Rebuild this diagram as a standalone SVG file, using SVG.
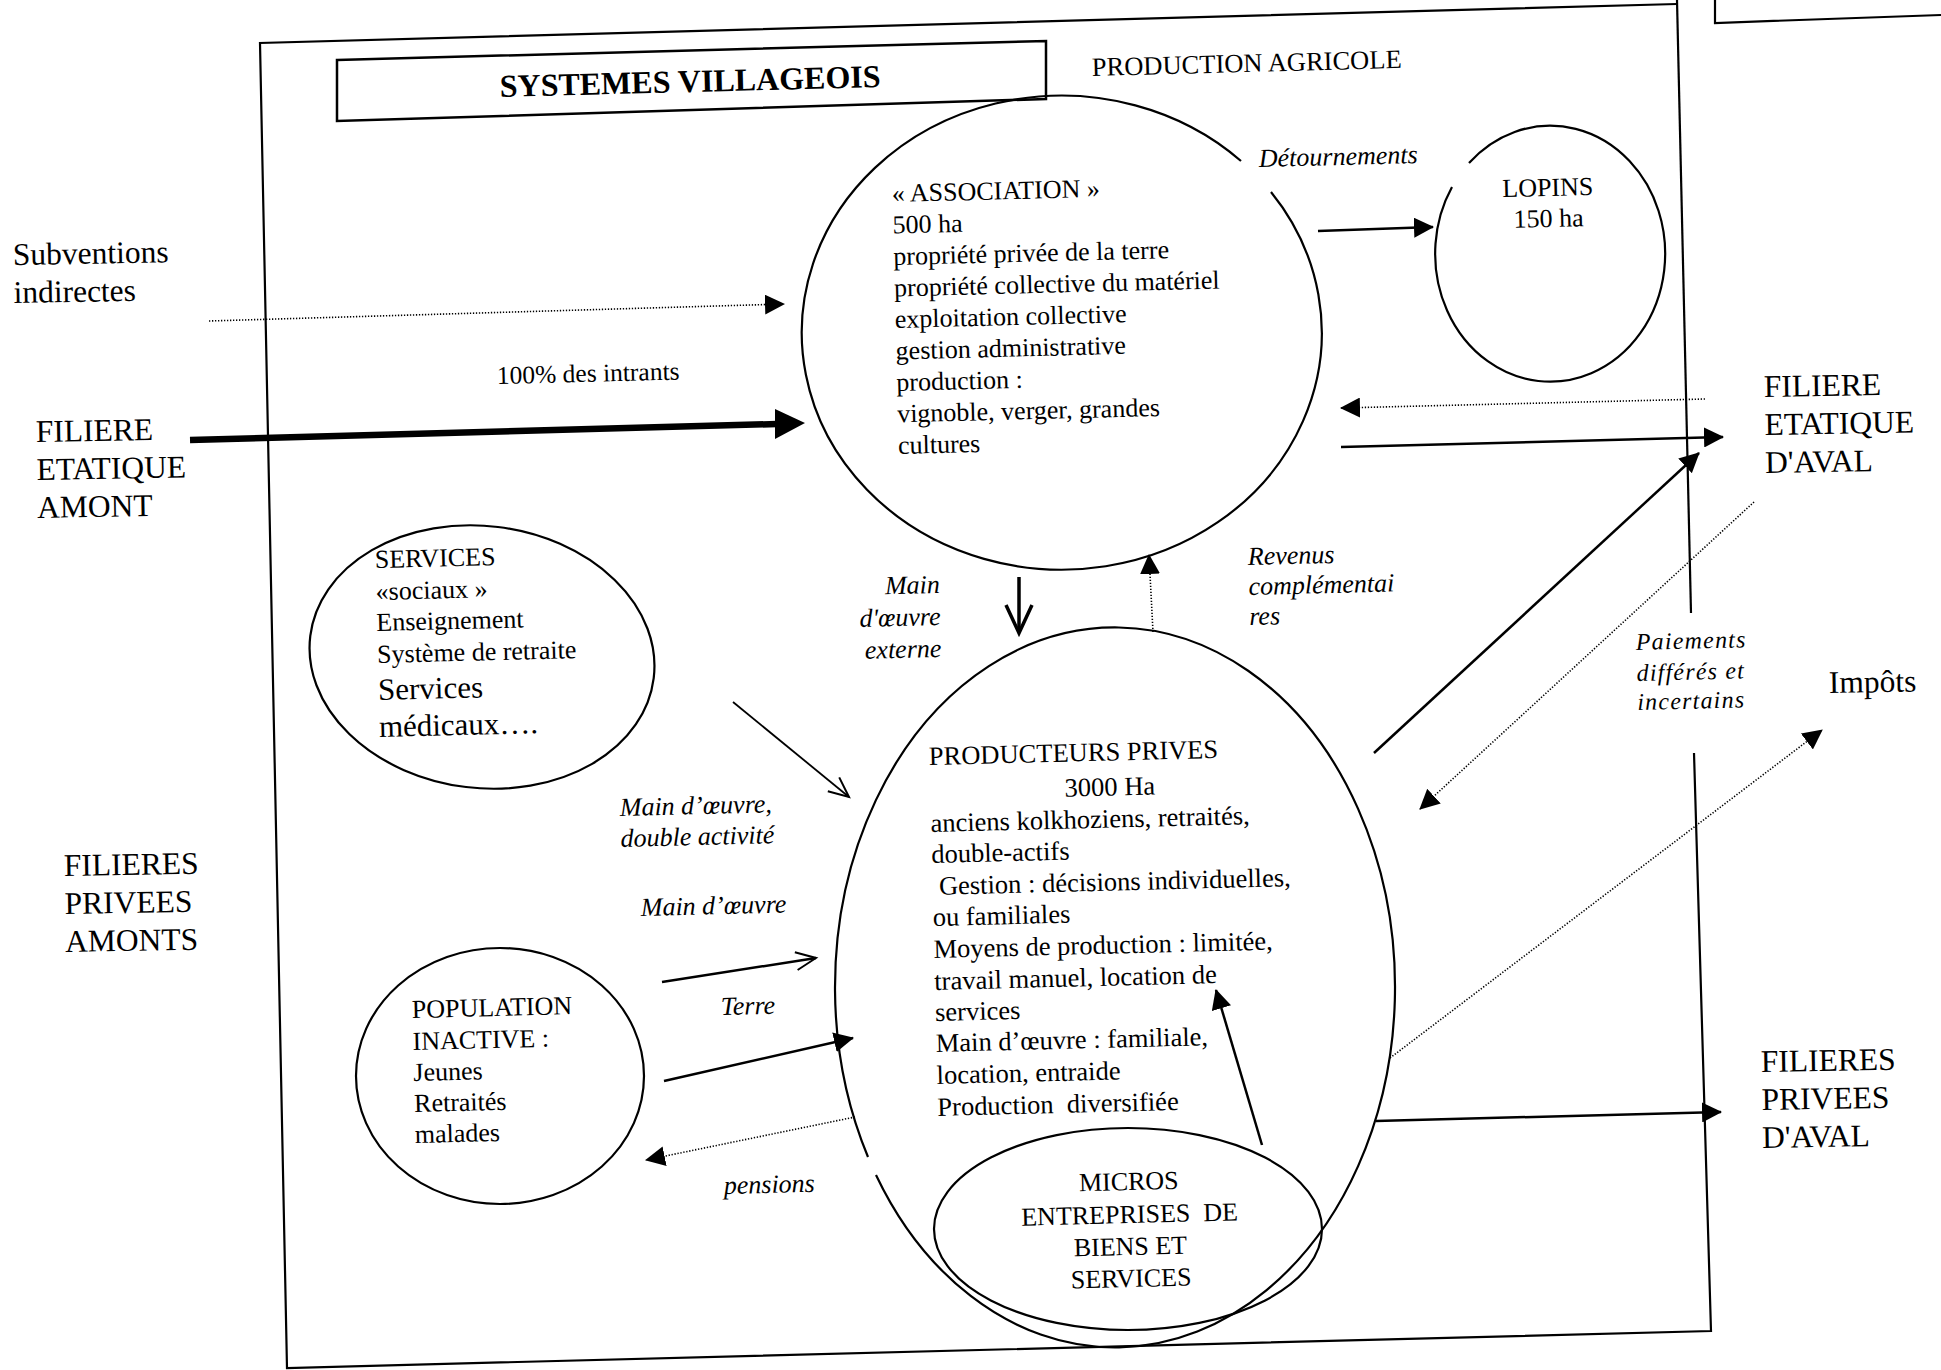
<svg xmlns="http://www.w3.org/2000/svg" width="1941" height="1370" viewBox="0 0 1941 1370">
<defs>
<style>
text{font-family:"Liberation Serif","Times New Roman",serif;fill:#000}
.t{font-size:26px}
.t2{font-size:26.5px}
.big{font-size:31.5px}
.it{font-size:26px;font-style:italic}
.its{font-size:24px;font-style:italic;letter-spacing:1.2px}
.ttl{font-size:32px;font-weight:bold}
.shape{fill:none;stroke:#000;stroke-width:2.2}
.frame{fill:none;stroke:#000;stroke-width:2.2}
.ar{fill:none;stroke:#000;stroke-width:2.5}
.dot{fill:none;stroke:#000;stroke-width:1.6;stroke-dasharray:1.3 1.7}
</style>
<marker id="tri" viewBox="0 0 20 20" refX="19" refY="10" markerWidth="20" markerHeight="20" markerUnits="userSpaceOnUse" orient="auto"><path d="M0,0 L20,10 L0,20 z" fill="#000"/></marker>
<marker id="vee" viewBox="0 0 24 24" refX="22" refY="12" markerWidth="24" markerHeight="24" markerUnits="userSpaceOnUse" orient="auto" overflow="visible"><path d="M2,3 L22,12 L2,21" fill="none" stroke="#000" stroke-width="2"/></marker>
<marker id="veeB" viewBox="0 0 32 32" refX="30" refY="16" markerWidth="32" markerHeight="32" markerUnits="userSpaceOnUse" orient="auto" overflow="visible"><path d="M2,3 L30,16 L2,29" fill="none" stroke="#000" stroke-width="3.5"/></marker>
</defs>
<rect x="0" y="0" width="1941" height="1370" fill="#fff"/>

<g id="frame">
<path class="frame" d="M1677,0 L1691,613"/>
<path class="frame" d="M1677,4 L260,43 L287,1368 L1711,1331 L1694,753"/>
<path class="frame" d="M1715,0 L1715,23 L1941,15"/>
</g>

<g id="title-box">
<path d="M337,60 L1046,41 L1046,99 L337,121 Z" fill="none" stroke="#000" stroke-width="2.5"/>
<text class="ttl" x="500" y="97" transform="rotate(-1.5 500 97)">SYSTEMES VILLAGEOIS</text>
</g>

<g id="production-agricole">
<text class="t2" x="1092" y="76" transform="rotate(-1.5 1092 76)">PRODUCTION AGRICOLE</text>
</g>

<g id="association">
<path class="shape" d="M1271,192 A260,237 0 1 1 1241,161"/>
<text class="t" transform="rotate(-1.4 892 202)"><tspan x="892" y="202">« ASSOCIATION »</tspan><tspan x="892" y="233.5">500 ha</tspan><tspan x="892" y="265">propriété privée de la terre</tspan><tspan x="892" y="296.5">propriété collective du matériel</tspan><tspan x="892" y="328">exploitation collective</tspan><tspan x="892" y="359.5">gestion administrative</tspan><tspan x="892" y="391">production :</tspan><tspan x="892" y="422.5">vignoble, verger, grandes</tspan><tspan x="892" y="454">cultures</tspan></text>
</g>

<g id="lopins">
<path class="shape" d="M1469,163 A115,128 0 1 1 1452,187"/>
<text class="t" text-anchor="middle" transform="rotate(-1.4 1548 196)"><tspan x="1548" y="196">LOPINS</tspan><tspan x="1548" y="227">150 ha</tspan></text>
</g>

<g id="services">
<ellipse class="shape" cx="482" cy="657" rx="173" ry="131" transform="rotate(7 482 657)"/>
<text class="t" transform="rotate(-1.4 375 568)"><tspan x="375" y="568">SERVICES</tspan><tspan x="375" y="600">«sociaux »</tspan><tspan x="375" y="631">Enseignement</tspan><tspan x="375" y="663">Système de retraite</tspan><tspan x="375" y="700" style="font-size:31px">Services</tspan><tspan x="375" y="737" style="font-size:31px">médicaux….</tspan></text>
</g>

<g id="producteurs">
<path class="shape" d="M868,1157 A280,360 0 1 1 876,1175"/>
<text class="t2" transform="rotate(-1.4 929 765)"><tspan x="929" y="765">PRODUCTEURS PRIVES</tspan><tspan x="1064" y="800">3000 Ha</tspan><tspan x="929" y="832">anciens kolkhoziens, retraités,</tspan><tspan x="929" y="863">double-actifs</tspan><tspan x="936" y="895">Gestion : décisions individuelles,</tspan><tspan x="929" y="926">ou familiales</tspan><tspan x="929" y="958">Moyens de production : limitée,</tspan><tspan x="929" y="990">travail manuel, location de</tspan><tspan x="929" y="1021">services</tspan><tspan x="929" y="1052">Main d’œuvre : familiale,</tspan><tspan x="929" y="1084">location, entraide</tspan><tspan x="929" y="1116">Production&#160; diversifiée</tspan></text>
</g>

<g id="micros">
<ellipse class="shape" cx="1128" cy="1229" rx="194" ry="101"/>
<text class="t" text-anchor="middle" transform="rotate(-1.4 1129 1190)"><tspan x="1129" y="1190">MICROS</tspan><tspan x="1129" y="1223">ENTREPRISES&#160; DE</tspan><tspan x="1129" y="1255">BIENS ET</tspan><tspan x="1129" y="1287">SERVICES</tspan></text>
</g>

<g id="population">
<ellipse class="shape" cx="500" cy="1076" rx="144" ry="128"/>
<text class="t" transform="rotate(-1.4 412 1018)"><tspan x="412" y="1018">POPULATION</tspan><tspan x="412" y="1050">INACTIVE :</tspan><tspan x="412" y="1081">Jeunes</tspan><tspan x="412" y="1112">Retraités</tspan><tspan x="412" y="1143">malades</tspan></text>
</g>

<g id="subventions">
<text class="big" transform="rotate(-1 13 265)"><tspan x="13" y="265">Subventions</tspan><tspan x="13" y="303">indirectes</tspan></text>
</g>
<g id="filiere-etatique-amont">
<text class="big" transform="rotate(-1 36 442)"><tspan x="36" y="442">FILIERE</tspan><tspan x="36" y="480">ETATIQUE</tspan><tspan x="36" y="518">AMONT</tspan></text>
</g>
<g id="filieres-privees-amonts">
<text class="big" transform="rotate(-1 64 876)"><tspan x="64" y="876">FILIERES</tspan><tspan x="64" y="914">PRIVEES</tspan><tspan x="64" y="952">AMONTS</tspan></text>
</g>
<g id="filiere-etatique-aval">
<text class="big" transform="rotate(-1 1764 397)"><tspan x="1764" y="397">FILIERE</tspan><tspan x="1764" y="435">ETATIQUE</tspan><tspan x="1764" y="473">D'AVAL</tspan></text>
</g>
<g id="impots">
<text class="big" x="1829" y="693" transform="rotate(-1 1829 693)">Impôts</text>
</g>
<g id="filieres-privees-aval">
<text class="big" transform="rotate(-1 1761 1072)"><tspan x="1761" y="1072">FILIERES</tspan><tspan x="1761" y="1110">PRIVEES</tspan><tspan x="1761" y="1148">D'AVAL</tspan></text>
</g>

<g id="connectors">
<line class="dot" x1="209" y1="321" x2="784" y2="304" marker-end="url(#tri)"/>
<line x1="190" y1="440" x2="777" y2="424" stroke="#000" stroke-width="6.5"/>
<polygon points="805,423 775,439 775,409" fill="#000"/>
<line class="ar" x1="1318" y1="231" x2="1433" y2="227" marker-end="url(#tri)"/>
<line class="dot" x1="1705" y1="399" x2="1341" y2="408" marker-end="url(#tri)"/>
<line class="ar" x1="1341" y1="447" x2="1723" y2="437" marker-end="url(#tri)"/>
<line class="ar" x1="1374" y1="753" x2="1699" y2="453" marker-end="url(#tri)"/>
<line class="dot" x1="1754" y1="502" x2="1420" y2="809" marker-end="url(#tri)"/>
<line class="dot" x1="1390" y1="1058" x2="1822" y2="730" marker-end="url(#tri)"/>
<line class="ar" x1="1376" y1="1121" x2="1721" y2="1112" marker-end="url(#tri)"/>
<line x1="1019" y1="577" x2="1019" y2="633" stroke="#000" stroke-width="3.5" marker-end="url(#veeB)"/>
<line class="dot" x1="1153" y1="632" x2="1149" y2="555" marker-end="url(#tri)"/>
<line x1="733" y1="702" x2="849" y2="797" stroke="#000" stroke-width="1.8" marker-end="url(#vee)"/>
<line class="ar" x1="662" y1="982" x2="816" y2="958" marker-end="url(#vee)"/>
<line class="ar" x1="664" y1="1081" x2="853" y2="1038" marker-end="url(#tri)"/>
<line class="dot" x1="855" y1="1117" x2="646" y2="1160" marker-end="url(#tri)"/>
<line class="ar" x1="1262" y1="1145" x2="1216" y2="990" marker-end="url(#tri)"/>
</g>

<g id="connector-labels">
<text class="it" x="1259" y="167" transform="rotate(-1.4 1259 167)">Détournements</text>
<text x="497" y="384" style="font-size:25.5px" transform="rotate(-1.4 497 384)">100% des intrants</text>
<text class="it" text-anchor="end" transform="rotate(-1.4 940 593)"><tspan x="940" y="593">Main</tspan><tspan x="940" y="625">d'œuvre</tspan><tspan x="940" y="657">externe</tspan></text>
<text class="it" transform="rotate(-1.4 1248 565)"><tspan x="1248" y="565">Revenus</tspan><tspan x="1248" y="595">complémentai</tspan><tspan x="1248" y="625">res</tspan></text>
<text class="its" transform="rotate(-1.4 1636 650)"><tspan x="1636" y="650">Paiements</tspan><tspan x="1636" y="681">différés et</tspan><tspan x="1636" y="710">incertains</tspan></text>
<text class="it" transform="rotate(-1.4 620 816)"><tspan x="620" y="816">Main d’œuvre,</tspan><tspan x="620" y="847">double activité</tspan></text>
<text class="it" x="641" y="916" transform="rotate(-1.4 641 916)">Main d’œuvre</text>
<text class="it" x="721" y="1015" transform="rotate(-1.4 721 1015)">Terre</text>
<text class="it" x="724" y="1194" transform="rotate(-1.4 724 1194)">pensions</text>
</g>
</svg>
